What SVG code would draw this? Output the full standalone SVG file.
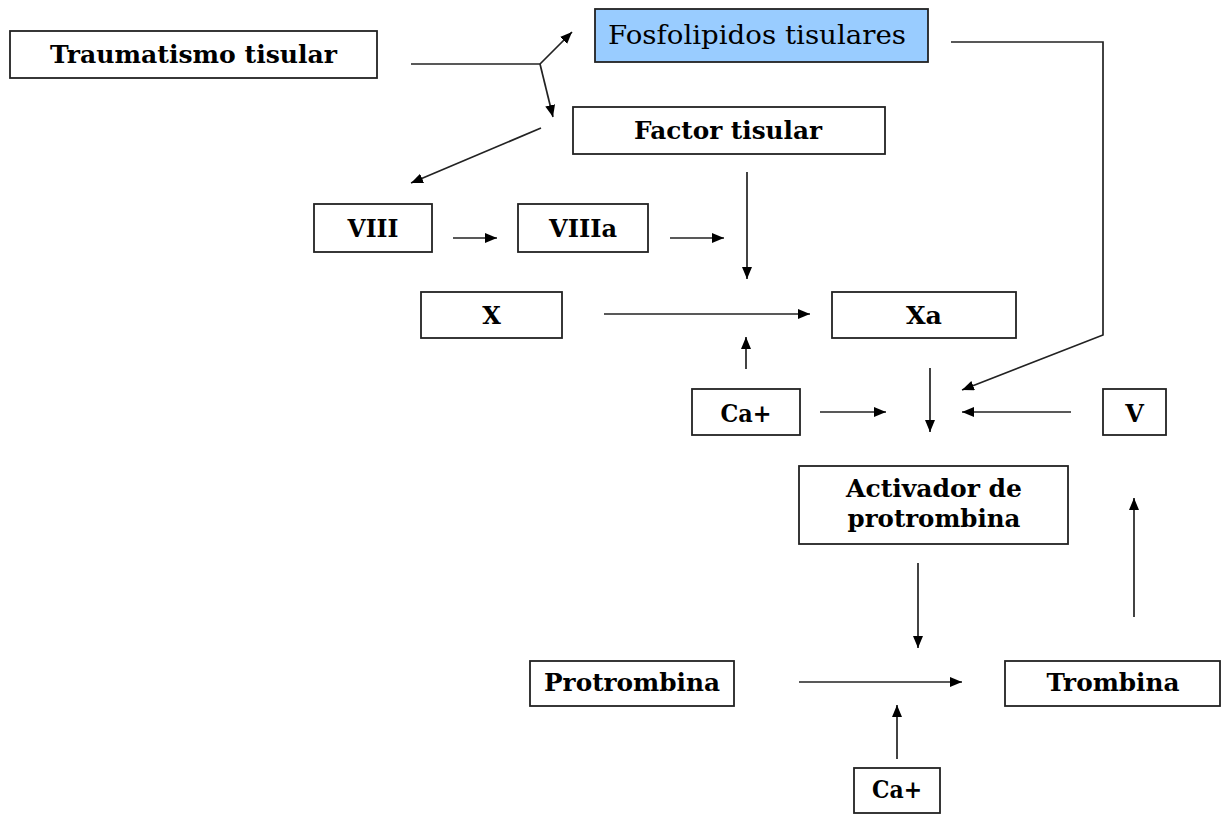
<svg xmlns="http://www.w3.org/2000/svg" width="1221" height="815" viewBox="0 0 1221 815">
<style>
.box{fill:#fff;stroke:#222;stroke-width:1.8}
.blue{fill:#99CCFF}
.t{font-family:"DejaVu Serif","Liberation Serif",serif;font-weight:bold;font-size:24px;fill:#000;text-anchor:middle}
.r{font-family:"DejaVu Serif","Liberation Serif",serif;font-size:26px;fill:#000;text-anchor:middle}
.c{fill:none;stroke:#222;stroke-width:1.7}
.a{marker-end:url(#ah)}
</style>
<defs>
<marker id="ah" markerUnits="userSpaceOnUse" markerWidth="13" markerHeight="11" refX="12" refY="5" orient="auto">
<path d="M0,0 L12,5 L0,10 z" fill="#000"/>
</marker>
</defs>
<rect width="1221" height="815" fill="#fff"/>
<g id="connectors">
<path class="c" d="M411,64 H540"/>
<path class="c a" d="M540,64 L572,32"/>
<path class="c a" d="M540,64 L553,117"/>
<path class="c a" d="M541,128 L411,183"/>
<path class="c a" d="M951,42 H1103 V335 L962,390"/>
<path class="c a" d="M747,172 V279"/>
<path class="c a" d="M453,238 H497"/>
<path class="c a" d="M670,238 H724"/>
<path class="c a" d="M604,314 H810"/>
<path class="c a" d="M746,369 V337"/>
<path class="c a" d="M820,412 H886"/>
<path class="c a" d="M930,368 V432"/>
<path class="c a" d="M1071,412 H962"/>
<path class="c a" d="M1134,617 V498"/>
<path class="c a" d="M918,563 V648"/>
<path class="c a" d="M799,682 H962"/>
<path class="c a" d="M897,759 V705"/>
</g>
<g id="traumatismo"><rect class="box" x="10" y="31" width="367" height="47"/><text class="t" x="193.5" y="63" textLength="287" lengthAdjust="spacingAndGlyphs">Traumatismo tisular</text></g>
<g id="fosfolipidos"><rect class="box blue" x="595" y="9" width="333" height="53"/><text class="r" x="757" y="44" textLength="298" lengthAdjust="spacingAndGlyphs">Fosfolipidos tisulares</text></g>
<g id="factor"><rect class="box" x="573" y="107" width="312" height="47"/><text class="t" x="728" y="139" textLength="188" lengthAdjust="spacingAndGlyphs">Factor tisular</text></g>
<g id="viii"><rect class="box" x="314" y="204" width="118" height="48"/><text class="t" x="373" y="237" textLength="51" lengthAdjust="spacingAndGlyphs">VIII</text></g>
<g id="viiia"><rect class="box" x="518" y="204" width="130" height="48"/><text class="t" x="583" y="237" textLength="68" lengthAdjust="spacingAndGlyphs">VIIIa</text></g>
<g id="x"><rect class="box" x="421" y="292" width="141" height="46"/><text class="t" x="491.5" y="324">X</text></g>
<g id="xa"><rect class="box" x="832" y="292" width="184" height="46"/><text class="t" x="924" y="324" textLength="36" lengthAdjust="spacingAndGlyphs">Xa</text></g>
<g id="ca1"><rect class="box" x="692" y="389" width="108" height="46"/><text class="t" x="746" y="422" textLength="51" lengthAdjust="spacingAndGlyphs">Ca+</text></g>
<g id="v"><rect class="box" x="1103" y="389" width="63" height="46"/><text class="t" x="1134.5" y="422">V</text></g>
<g id="activador"><rect class="box" x="799" y="466" width="269" height="78"/><text class="t" x="934" y="497" textLength="176" lengthAdjust="spacingAndGlyphs">Activador de</text><text class="t" x="934" y="527" textLength="173" lengthAdjust="spacingAndGlyphs">protrombina</text></g>
<g id="protrombina"><rect class="box" x="530" y="661" width="204" height="45"/><text class="t" x="632" y="691" textLength="176" lengthAdjust="spacingAndGlyphs">Protrombina</text></g>
<g id="trombina"><rect class="box" x="1005" y="661" width="215" height="45"/><text class="t" x="1113" y="691" textLength="133" lengthAdjust="spacingAndGlyphs">Trombina</text></g>
<g id="ca2"><rect class="box" x="854" y="768" width="86" height="45"/><text class="t" x="897" y="798" textLength="50" lengthAdjust="spacingAndGlyphs">Ca+</text></g>
</svg>
